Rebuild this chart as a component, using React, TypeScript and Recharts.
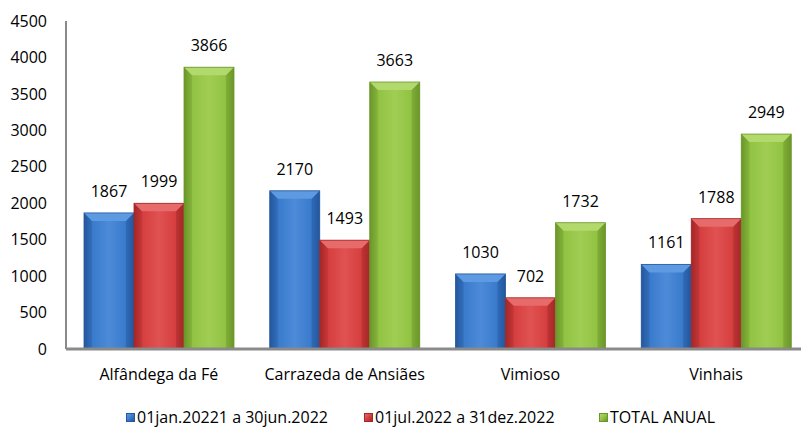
import React from 'react';
import { BarChart, Bar, XAxis, YAxis, LabelList } from 'recharts';

const categories = ['Alfândega da Fé', 'Carrazeda de Ansiães', 'Vimioso', 'Vinhais'];
const firstHalf = [1867, 2170, 1030, 1161];
const secondHalf = [1999, 1493, 702, 1788];
const totalAnual = [3866, 3663, 1732, 2949];
const seriesNames = ['01jan.20221 a 30jun.2022', '01jul.2022 a 31dez.2022', 'TOTAL ANUAL'];
const yTicks = [0, 500, 1000, 1500, 2000, 2500, 3000, 3500, 4000, 4500];

const data = categories.map((name, i) => ({
  name,
  s1: firstHalf[i],
  s2: secondHalf[i],
  s3: totalAnual[i],
}));

const palettes = [
  { id: 'b', body: '#3a7bcd', light: '#4d8bd8', dark: '#24579d', top: '#5d9ae2' },
  { id: 'r', body: '#d63f3f', light: '#e05252', dark: '#a42727', top: '#e86b6b' },
  { id: 'g', body: '#92c343', light: '#a0cd54', dark: '#6b962a', top: '#b2d96c' },
];
const keys = ['s1', 's2', 's3'];

const makeShape = (p: typeof palettes[0]) => (props: any) => {
  const { x, y, width, height } = props;
  if (!height || height <= 0) return null;
  const b = Math.min(8, width / 5, height / 2);
  return (
    <g>
      <rect x={x} y={y} width={width} height={height} fill={`url(#grad-${p.id})`} />
      <polygon
        points={`${x},${y} ${x + width},${y} ${x + width - b},${y + b} ${x + b},${y + b}`}
        fill={p.top}
      />
      <polygon
        points={`${x},${y} ${x + b},${y + b} ${x + b},${y + height} ${x},${y + height}`}
        fill={p.dark}
        opacity={0.25}
      />
      <polygon
        points={`${x + width},${y} ${x + width - b},${y + b} ${x + width - b},${y + height} ${x + width},${y + height}`}
        fill={p.dark}
        opacity={0.4}
      />
      <rect x={x} y={y} width={width} height={height} fill="none" stroke={p.dark} strokeWidth={0.8} />
    </g>
  );
};

const font = '"Open Sans", sans-serif';

export default function App() {
  const legendLeft = [126, 364, 599];
  return (
    <div
      style={{
        position: 'absolute',
        left: 0,
        top: 0,
        width: 801,
        height: 428,
        overflow: 'hidden',
        background: '#fff',
        fontFamily: font,
      }}
    >
      <BarChart
        width={812}
        height={428}
        data={data}
        margin={{ top: 21, right: 3, left: 0, bottom: 49 }}
        barCategoryGap={18}
        barGap={0}
      >
        <defs>
          {palettes.map((p) => (
            <linearGradient key={p.id} id={`grad-${p.id}`} x1="0" y1="0" x2="1" y2="0">
              <stop offset="0%" stopColor={p.dark} />
              <stop offset="18%" stopColor={p.body} />
              <stop offset="50%" stopColor={p.light} />
              <stop offset="82%" stopColor={p.body} />
              <stop offset="100%" stopColor={p.dark} />
            </linearGradient>
          ))}
        </defs>
        <XAxis
          dataKey="name"
          height={30}
          tickLine={false}
          axisLine={{ stroke: '#8a8a8a', strokeWidth: 3 }}
          tick={{ fill: '#000', fontSize: 16, fontFamily: font }}
          tickMargin={14}
          interval={0}
        />
        <YAxis
          width={66}
          domain={[0, 4500]}
          ticks={yTicks}
          interval={0}
          tickLine={false}
          axisLine={{ stroke: '#8a8a8a', strokeWidth: 2 }}
          tick={{ fill: '#000', fontSize: 16, fontFamily: font }}
          tickMargin={13}
        />
        {keys.map((k, i) => (
          <Bar
            key={k}
            dataKey={k}
            name={seriesNames[i]}
            fill={palettes[i].body}
            shape={makeShape(palettes[i])}
            isAnimationActive={false}
          >
            <LabelList
              dataKey={k}
              position="top"
              offset={16}
              style={{ fill: '#000', fontSize: 16, fontFamily: font }}
            />
          </Bar>
        ))}
      </BarChart>
      {seriesNames.map((n, i) => (
        <div
          key={n}
          style={{
            position: 'absolute',
            left: legendLeft[i],
            top: 407,
            height: 20,
            lineHeight: '20px',
            display: 'flex',
            alignItems: 'center',
            fontSize: 16,
            color: '#000',
            whiteSpace: 'nowrap',
          }}
        >
          <span
            style={{
              display: 'inline-block',
              width: 9,
              height: 9,
              background: `linear-gradient(135deg, ${palettes[i].top}, ${palettes[i].body} 50%, ${palettes[i].dark})`,
              border: `1px solid ${palettes[i].dark}`,
              boxSizing: 'border-box',
              marginRight: 1,
            }}
          />
          <span style={{ marginLeft: 1 }}>{n}</span>
        </div>
      ))}
    </div>
  );
}
